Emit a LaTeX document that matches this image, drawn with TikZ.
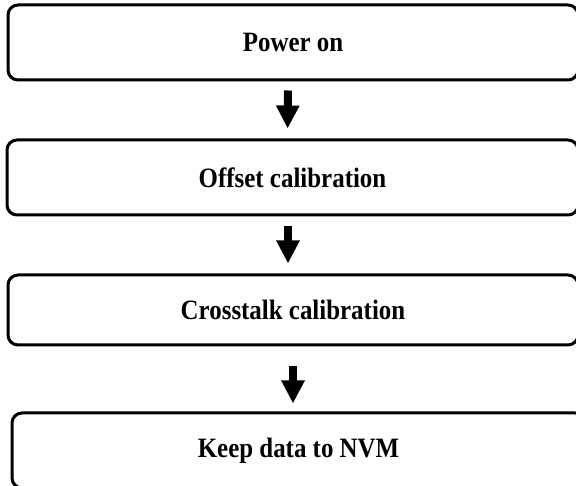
\documentclass[tikz,border=0pt]{standalone}
\usepackage{fontspec}
\setmainfont{Liberation Serif}[FakeStretch=0.89]
\usetikzlibrary{arrows.meta}
\begin{document}
\begin{tikzpicture}[x=1pt,y=-1pt,
  stepbox/.style={draw=black, line width=3pt, rounded corners=10pt, fill=white,
    minimum height=75pt, inner sep=0pt,
    font=\bfseries\fontsize{28}{30}\selectfont},
  flowarrow/.style={line width=8pt, -{Triangle[width=22pt,length=23pt]}}]
\useasboundingbox (0,0) rectangle (576,486);
\clip (0,0) rectangle (576,486);
\fill[white] (0,0) rectangle (576,486);
\node[stepbox, minimum width=570pt] (b1) at (293,42.5) {Power on};
\node[stepbox, minimum width=571pt] (b2) at (292.5,177.5) {Offset calibration};
\node[stepbox, minimum width=570pt, minimum height=70pt] (b3) at (293,310) {Crosstalk calibration};
\node[stepbox, minimum width=573pt] (b4) at (298.5,450.5) {Keep data to NVM};
\draw[flowarrow, shorten <=9pt, shorten >=10pt] ([xshift=-5pt]b1.south) -- ([xshift=-5pt]b2.north);
\draw[flowarrow, shorten <=10pt, shorten >=10pt] ([xshift=-4.5pt]b2.south) -- ([xshift=-5pt]b3.north);
\draw[flowarrow, shorten <=20pt, shorten >=8pt] (b3.south) -- ([xshift=-5.5pt]b4.north);
\end{tikzpicture}
\end{document}
